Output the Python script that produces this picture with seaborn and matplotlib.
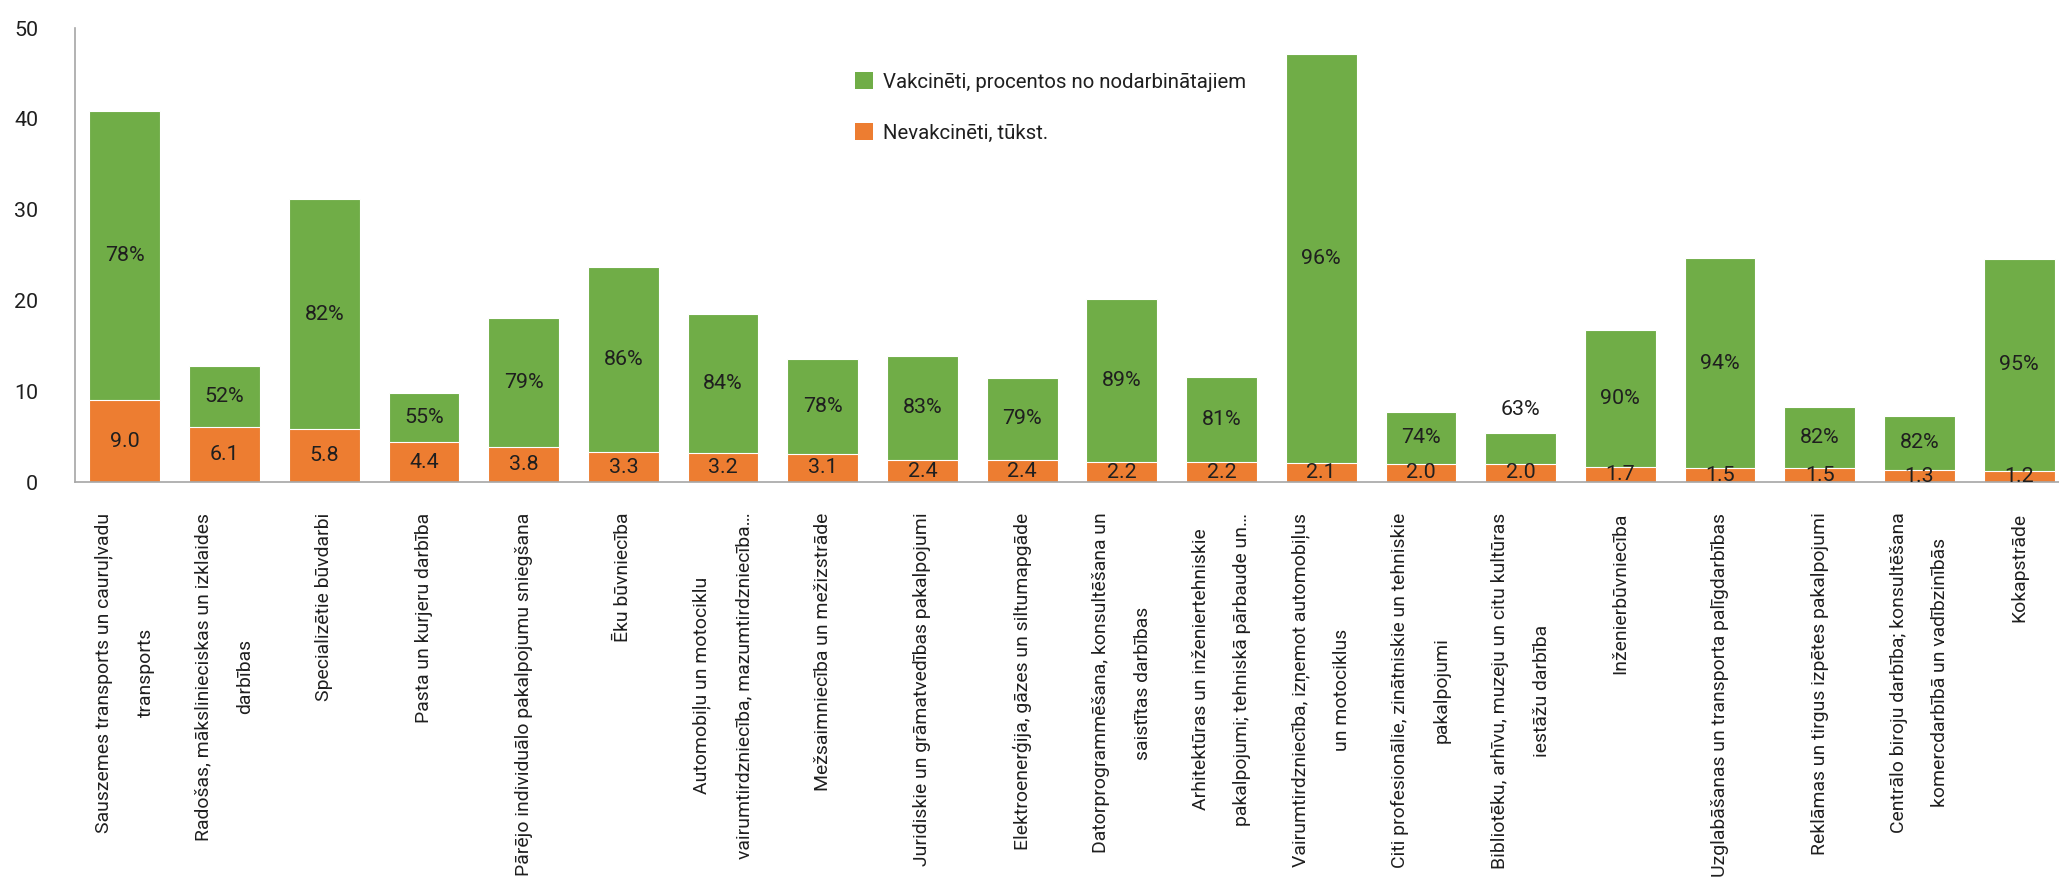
import numpy as np
import pandas as pd
import matplotlib
matplotlib.use("Agg")
import matplotlib.pyplot as plt
import seaborn as sns
from matplotlib import font_manager
from matplotlib.patches import Patch

# Data
sectors = [
    "Sauszemes transports un cauruļvadu\ntransports",
    "Radošas, mākslinieciskas un izklaides\ndarbības",
    "Specializētie būvdarbi",
    "Pasta un kurjeru darbība",
    "Pārējo individuālo pakalpojumu sniegšana",
    "Ēku būvniecība",
    "Automobiļu un motociklu\nvairumtirdzniecība, mazumtirdzniecība…",
    "Mežsaimniecība un mežizstrāde",
    "Juridiskie un grāmatvedības pakalpojumi",
    "Elektroenerģija, gāzes un siltumapgāde",
    "Datorprogrammēšana, konsultēšana un\nsaistītas darbības",
    "Arhitektūras un inženiertehniskie\npakalpojumi; tehniskā pārbaude un…",
    "Vairumtirdzniecība, izņemot automobiļus\nun motociklus",
    "Citi profesionālie, zinātniskie un tehniskie\npakalpojumi",
    "Bibliotēku, arhīvu, muzeju un citu kultūras\niestāžu darbība",
    "Inženierbūvniecība",
    "Uzglabāšanas un transporta palīgdarbības",
    "Reklāmas un tirgus izpētes pakalpojumi",
    "Centrālo biroju darbība; konsultēšana\nkomercdarbībā un vadībzinībās",
    "Kokapstrāde",
]
unvaccinated = [9.0, 6.1, 5.8, 4.4, 3.8, 3.3, 3.2, 3.1, 2.4, 2.4,
                2.2, 2.2, 2.1, 2.0, 2.0, 1.7, 1.5, 1.5, 1.3, 1.2]
vaccinated = [31.9, 6.7, 25.4, 5.4, 14.3, 20.4, 15.3, 10.5, 11.5, 9.1,
              18.0, 9.4, 45.0, 5.7, 3.4, 15.0, 23.2, 6.8, 6.0, 23.4]
vacc_pct = [78, 52, 82, 55, 79, 86, 84, 78, 83, 79,
            89, 81, 96, 74, 63, 90, 94, 82, 82, 95]

legend_labels = ["Vakcinēti, procentos no nodarbinātajiem", "Nevakcinēti, tūkst."]

df = pd.DataFrame({
    "sector": sectors,
    "unvacc": unvaccinated,
    "vacc": vaccinated,
    "pct": vacc_pct,
})
df["total"] = df["unvacc"] + df["vacc"]

GREEN = "#70AD47"
ORANGE = "#ED7D31"
TEXT = "#1f1f1f"
AXIS = "#a6a6a6"

sns.set_style("white")
installed = {f.name for f in font_manager.fontManager.ttflist}
if "Liberation Sans Narrow" in installed:
    FONT, SCALE = "Liberation Sans Narrow", 1.0
else:
    FONT, SCALE = "Roboto", 0.84
plt.rcParams["font.family"] = [FONT, "DejaVu Sans"]
FS = 17.5 * SCALE

fig = plt.figure(figsize=(20.59, 8.92), dpi=100)
ax = fig.add_axes([75 / 2059, 410 / 892, 1994 / 2059, 454 / 892])

# stacked bars: full height in green, unvaccinated in orange over it
sns.barplot(data=df, x="sector", y="total", color=GREEN, saturation=1, width=0.71,
            edgecolor="white", linewidth=0.8, ax=ax)
sns.barplot(data=df, x="sector", y="unvacc", color=ORANGE, saturation=1, width=0.71,
            edgecolor="white", linewidth=0.8, ax=ax)

# value labels
for i, row in df.iterrows():
    ax.text(i, row["unvacc"] / 2, f"{row['unvacc']:.1f}", ha="center", va="center",
            fontsize=FS * 1.05, color=TEXT)
    if row["vacc"] >= 4:
        ax.text(i, row["unvacc"] + row["vacc"] / 2, f"{row['pct']}%", ha="center",
                va="center", fontsize=FS * 1.05, color=TEXT)
    else:
        ax.annotate(f"{row['pct']}%", (i, row["total"]), xytext=(0, 10),
                    textcoords="offset points", ha="center", va="bottom",
                    fontsize=FS * 1.05, color=TEXT)

ax.set_ylim(0, 50)
ax.set_xlim(-0.5, len(df) - 0.5)
ax.set_yticks(range(0, 51, 10))
ax.set_xlabel("")
ax.set_ylabel("")

ax.set_xticks(range(len(df)))
ax.set_xticklabels(df["sector"], rotation=90, ha="center", va="top",
                   multialignment="center", linespacing=2.7, fontsize=FS * 0.95, color=TEXT)
ax.set_xticks(np.arange(-0.5, len(df), 1), minor=True)
ax.tick_params(axis="x", which="major", length=0, pad=22)
ax.tick_params(axis="x", which="minor", length=8, width=1, color=AXIS)
ax.tick_params(axis="y", length=9.4, width=1, color=AXIS, pad=17,
               labelsize=FS * 1.05, labelcolor=TEXT)

sns.despine(ax=ax, top=True, right=True)
for side in ["left", "bottom"]:
    ax.spines[side].set_color(AXIS)
    ax.spines[side].set_linewidth(1.2)

handles = [Patch(facecolor=GREEN, edgecolor="none"), Patch(facecolor=ORANGE, edgecolor="none")]
fig.legend(handles, legend_labels, loc="upper left", bbox_to_anchor=(855 / 2059, (892 - 72) / 892),
           frameon=False, fontsize=FS, handlelength=0.9, handleheight=0.9,
           handletextpad=0.45, labelspacing=1.55, borderpad=0, borderaxespad=0,
           labelcolor=TEXT)

fig.savefig("out.png", dpi=100)
